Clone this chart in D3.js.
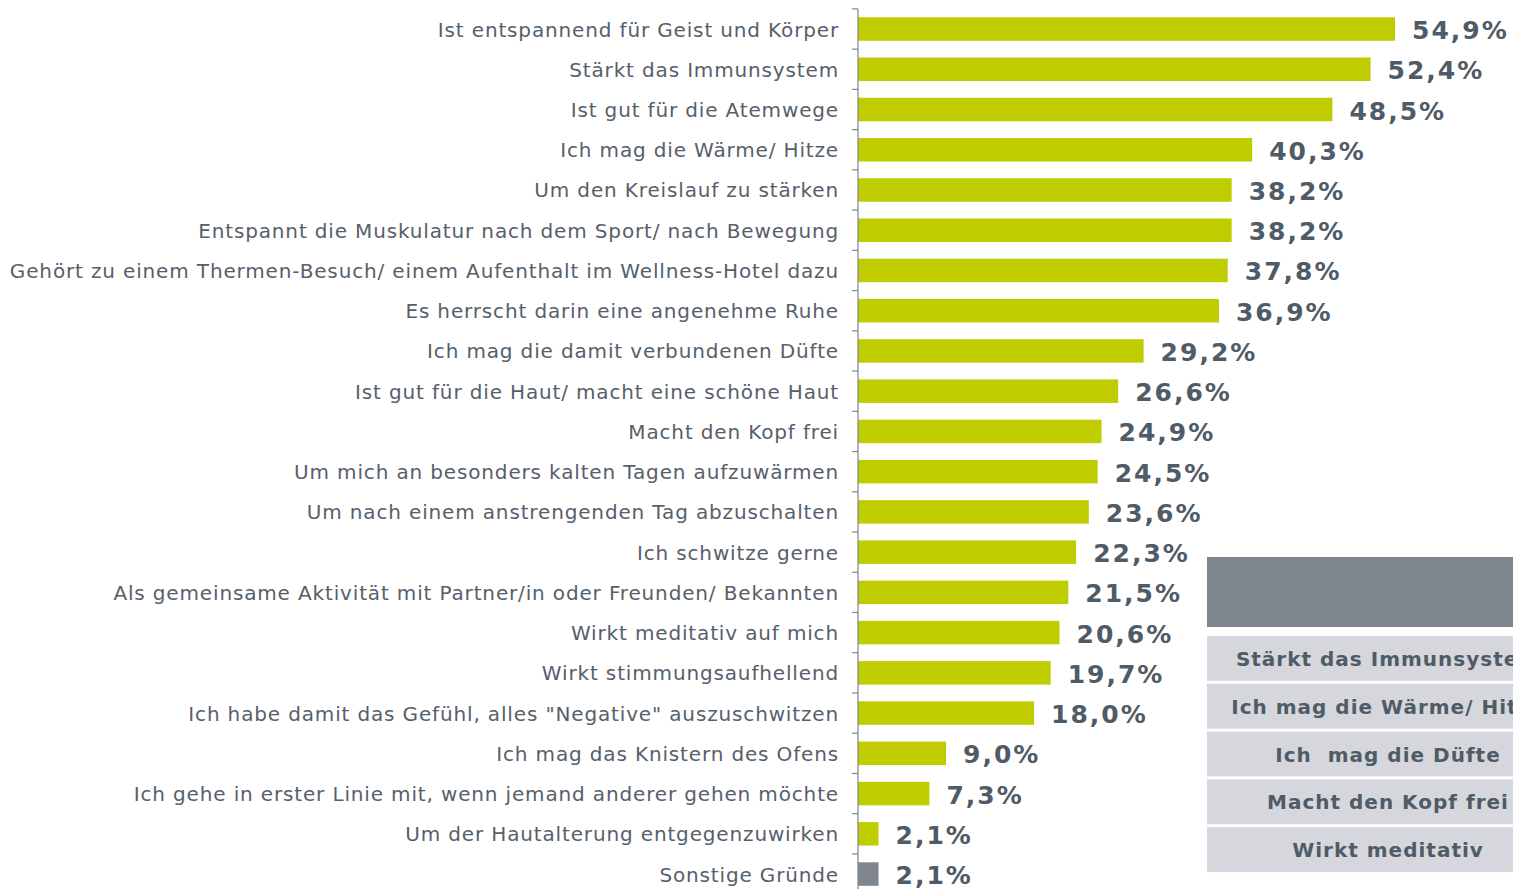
<!DOCTYPE html>
<html>
<head>
<meta charset="utf-8">
<script src="https://cdn.jsdelivr.net/npm/d3@7"></script>
<style>
  html, body { margin: 0; padding: 0; background: #fff; overflow: hidden; }
  svg { display: block; }
</style>
</head>
<body>
<div class="svg-canvas"></div>
<script>
// Gründe fürs Saunieren
var categories = [
    "Ist entspannend für Geist und Körper",
    "Stärkt das Immunsystem",
    "Ist gut für die Atemwege",
    "Ich mag die Wärme/ Hitze",
    "Um den Kreislauf zu stärken",
    "Entspannt die Muskulatur nach dem Sport/ nach Bewegung",
    "Gehört zu einem Thermen-Besuch/ einem Aufenthalt im Wellness-Hotel dazu",
    "Es herrscht darin eine angenehme Ruhe",
    "Ich mag die damit verbundenen Düfte",
    "Ist gut für die Haut/ macht eine schöne Haut",
    "Macht den Kopf frei",
    "Um mich an besonders kalten Tagen aufzuwärmen",
    "Um nach einem anstrengenden Tag abzuschalten",
    "Ich schwitze gerne",
    "Als gemeinsame Aktivität mit Partner/in oder Freunden/ Bekannten",
    "Wirkt meditativ auf mich",
    "Wirkt stimmungsaufhellend",
    "Ich habe damit das Gefühl, alles \"Negative\" auszuschwitzen",
    "Ich mag das Knistern des Ofens",
    "Ich gehe in erster Linie mit, wenn jemand anderer gehen möchte",
    "Um der Hautalterung entgegenzuwirken",
    "Sonstige Gründe"
];
var values = [54.9, 52.4, 48.5, 40.3, 38.2, 38.2, 37.8, 36.9, 29.2, 26.6, 24.9,
              24.5, 23.6, 22.3, 21.5, 20.6, 19.7, 18.0, 9.0, 7.3, 2.1, 2.1];
var otherCategory = "Sonstige Gründe";

// box at the right (cut off in the original)
var boxItems = ["Stärkt das Immunsystem", "Ich mag die Wärme/ Hitze",
                "Ich  mag die Düfte", "Macht den Kopf frei", "Wirkt meditativ"];

var W = 1513, H = 889;
var axisX = 858;

var svg = d3.select(".svg-canvas").append("svg")
    .attr("width", W)
    .attr("height", H);

var x = d3.scaleLinear().domain([0, 54.9]).range([axisX, 1395]);

var step = 40.24, top0 = 8.9;
var y = d3.scaleBand()
    .domain(categories)
    .range([top0, top0 + categories.length * step])
    .paddingInner(0.416)
    .paddingOuter(0.208);

var fmt = function(v) { return d3.format(".1f")(v).replace(".", ",") + "%"; };

// bars
svg.selectAll("rect.bar")
    .data(categories)
    .enter()
    .append("rect")
    .attr("class", "bar")
    .attr("x", x(0))
    .attr("y", function(d) { return y(d); })
    .attr("width", function(d, i) { return x(values[i]) - x(0); })
    .attr("height", y.bandwidth())
    .attr("fill", function(d) { return d === otherCategory ? "#7f868f" : "#bfcd00"; });

// axis line + ticks at band boundaries
var boundaries = d3.range(categories.length + 1).map(function(i) { return top0 + i * step; });
svg.append("line")
    .attr("x1", axisX).attr("x2", axisX)
    .attr("y1", top0).attr("y2", H)
    .attr("stroke", "#7f868f").attr("stroke-width", 1.2);
svg.selectAll("line.tick")
    .data(boundaries)
    .enter()
    .append("line")
    .attr("class", "tick")
    .attr("x1", axisX - 6).attr("x2", axisX)
    .attr("y1", function(d) { return d; })
    .attr("y2", function(d) { return d; })
    .attr("stroke", "#7f868f").attr("stroke-width", 1.2);

// category labels
svg.selectAll("text.cat")
    .data(categories)
    .enter()
    .append("text")
    .attr("class", "cat")
    .attr("x", 839)
    .attr("y", function(d) { return y(d) + y.bandwidth() / 2 + 7.5; })
    .attr("text-anchor", "end")
    .style("font-family", "DejaVu Sans")
    .style("font-size", "20px")
    .style("letter-spacing", "0.85px")
    .style("fill", "#56606b")
    .text(function(d) { return d; });

// value labels
svg.selectAll("text.val")
    .data(categories)
    .enter()
    .append("text")
    .attr("class", "val")
    .attr("x", function(d, i) { return x(values[i]) + 17; })
    .attr("y", function(d) { return y(d) + y.bandwidth() / 2 + 10; })
    .style("font-family", "DejaVu Sans")
    .style("font-weight", "bold")
    .style("font-size", "25px")
    .style("letter-spacing", "2px")
    .style("fill", "#4f5b66")
    .text(function(d, i) { return fmt(values[i]); });

// right box
var boxX = 1207, boxW = 362;
svg.append("rect")
    .attr("x", boxX).attr("y", 557)
    .attr("width", boxW).attr("height", 70)
    .attr("fill", "#80868f");

var by = d3.scaleBand()
    .domain(boxItems)
    .range([634.5, 634.5 + boxItems.length * 47.8])
    .paddingInner(0.06)
    .paddingOuter(0.03);

svg.selectAll("rect.box")
    .data(boxItems)
    .enter()
    .append("rect")
    .attr("class", "box")
    .attr("x", boxX)
    .attr("y", function(d) { return by(d); })
    .attr("width", boxW)
    .attr("height", by.bandwidth())
    .attr("fill", "#d5d7dc");

svg.selectAll("text.box")
    .data(boxItems)
    .enter()
    .append("text")
    .attr("class", "box")
    .attr("x", boxX + boxW / 2)
    .attr("y", function(d) { return by(d) + by.bandwidth() / 2 + 7.5; })
    .attr("text-anchor", "middle")
    .attr("xml:space", "preserve")
    .style("white-space", "pre")
    .style("font-family", "DejaVu Sans")
    .style("font-weight", "bold")
    .style("font-size", "20px")
    .style("letter-spacing", "1px")
    .style("fill", "#4f5b66")
    .text(function(d) { return d; });
</script>
</body>
</html>
